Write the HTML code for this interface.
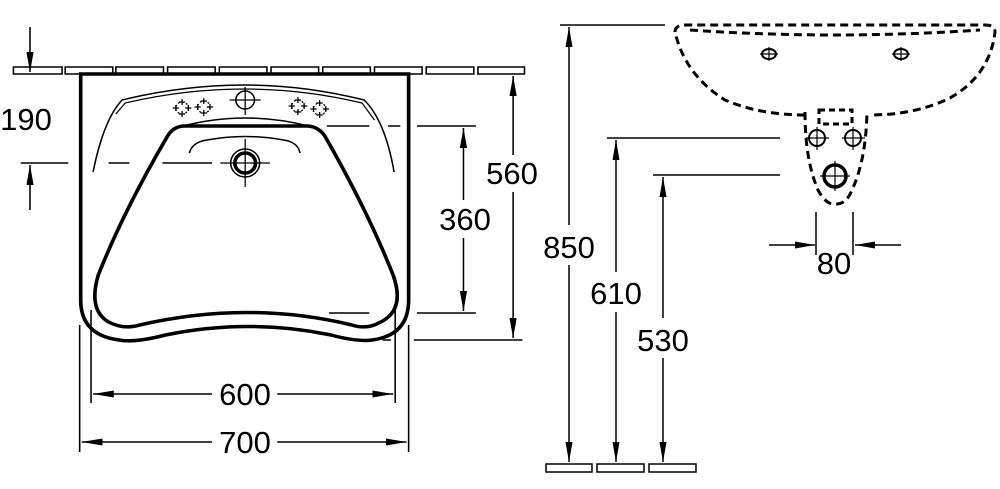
<!DOCTYPE html>
<html><head><meta charset="utf-8"><style>
html,body{margin:0;padding:0;background:#fff;}
svg{display:block;}
text{font-family:"Liberation Sans",sans-serif;font-size:31px;fill:#000;}
</style></head><body>
<svg width="1000" height="489" viewBox="0 0 1000 489" xmlns="http://www.w3.org/2000/svg">
<defs>
<marker id="a" viewBox="0 0 20 7" refX="20" refY="3.5" markerWidth="20" markerHeight="7" markerUnits="userSpaceOnUse" orient="auto"><path d="M0,0 L20,3.5 L0,7 z" fill="#000"/></marker>
<g id="cl" stroke="#000" fill="none" stroke-width="1.2">
<circle r="6" stroke-dasharray="2 2"/>
<path d="M-3,-6h6M0,-9v6M-3,6h6M0,3v6M-9,0h6M-6,-3v6M3,0h6M6,-3v6"/>
</g>
</defs>
<g transform="scale(1.0345,1)">
<g fill="none" stroke="#000">
<g stroke-width="1.5">
<rect x="13" y="67" width="47" height="7"/><rect x="63" y="67" width="46" height="7"/>
<rect x="112" y="67" width="46" height="7"/><rect x="162" y="67" width="46" height="7"/>
<rect x="212" y="67" width="46" height="7"/><rect x="262" y="67" width="46" height="7"/>
<rect x="312" y="67" width="46" height="7"/><rect x="362" y="67" width="46" height="7"/>
<rect x="412" y="67" width="46" height="7"/><rect x="462" y="67" width="45" height="7"/>
</g>
<path d="M78,74 H395 V300 Q395,335 360,340 Q345,342 320,335 Q240,318 160,335 Q130,343 115,340 Q78,335 78,300 Z" fill="#fff" stroke-width="3.5"/>
<path d="M177,126 H298 Q308,127 314,136 Q355,210 380,275 Q392,310 368,322 Q355,330 340,325 Q240,300 135,325 Q120,330 105,322 Q85,310 95,275 Q120,210 162,136 Q167,127 177,126 Z" stroke-width="3.5"/>
<path d="M90,172 Q100,120 118,100 Q237,70 352,100 Q372,120 381,172" stroke-width="1.5"/>
<path d="M112,114 L121,103 Q237,75 350,103 L362,120" stroke-width="1.2"/>
<path d="M183,153 Q186,142 200,140 Q237,133 274,140 Q288,142 290,153" stroke-width="1.5"/>
<path d="M177,126 Q237,110 298,126" stroke-width="1.5"/>
<circle cx="237" cy="163" r="14" stroke-width="1.5"/>
<circle cx="237" cy="163" r="10" stroke-width="3.5"/>
<path d="M213,163 H261 M237,139 V187" stroke-width="1.2"/>
<circle cx="237" cy="100" r="9" stroke-width="1.5"/>
<path d="M222,100 H252 M237,87 V115" stroke-width="1.2"/>
</g>
<use href="#cl" x="176" y="108"/><use href="#cl" x="197" y="107"/>
<use href="#cl" x="288" y="106"/><use href="#cl" x="309" y="109"/>
<g fill="none" stroke="#000">
<path d="M20,163 H66" stroke-width="1.5"/>
<path d="M105,163 H125 M157,163 H205" stroke-width="1.5"/>
<path d="M29,27 V72" stroke-width="1.5" marker-end="url(#a)"/>
<path d="M29,210 V165" stroke-width="1.5" marker-end="url(#a)"/>
<path d="M316,126 H357 M375,126 H387 M403,126 H460" stroke-width="1.5"/>
<path d="M318,313 H357 M403,313 H460" stroke-width="1.5"/>
<path d="M448,200 V128" stroke-width="1.5" marker-end="url(#a)"/>
<path d="M448,238 V311" stroke-width="1.5" marker-end="url(#a)"/>
<path d="M400,340 H505" stroke-width="1.5"/>
<path d="M370,340 H378" stroke-width="1.5"/>
<path d="M496,155 V76" stroke-width="1.5" marker-end="url(#a)"/>
<path d="M496,192 V338" stroke-width="1.5" marker-end="url(#a)"/>
<path d="M88,310 V403 M382,310 V403 M77,325 V452 M395,325 V452" stroke-width="1.5"/>
<path d="M205,394 H90" stroke-width="1.5" marker-end="url(#a)"/>
<path d="M268,394 H380" stroke-width="1.5" marker-end="url(#a)"/>
<path d="M205,442 H79" stroke-width="1.5" marker-end="url(#a)"/>
<path d="M268,442 H393" stroke-width="1.5" marker-end="url(#a)"/>
</g>
</g>
<g fill="none" stroke="#000">
<path d="M560,25 H665 M607,138 H780 M653,175 H780" stroke-width="1.5"/>
<path d="M569,225 V27" stroke-width="1.5" marker-end="url(#a)"/>
<path d="M569,265 V462" stroke-width="1.5" marker-end="url(#a)"/>
<path d="M616,272 V140" stroke-width="1.5" marker-end="url(#a)"/>
<path d="M616,312 V462" stroke-width="1.5" marker-end="url(#a)"/>
<path d="M663,318 V177" stroke-width="1.5" marker-end="url(#a)"/>
<path d="M663,358 V462" stroke-width="1.5" marker-end="url(#a)"/>
<rect x="546" y="464" width="46" height="8" stroke-width="1.5"/>
<rect x="597" y="464" width="47" height="8" stroke-width="1.5"/>
<rect x="649" y="464" width="47" height="8" stroke-width="1.5"/>
<g stroke-width="3" stroke-dasharray="8 5">
<path d="M675,32 Q675,25 685,25 H985 Q995,25 995,32 Q990,75 950,98 Q915,115 870,115 M805,115 Q760,115 725,100 Q685,75 675,32"/>
<path d="M690,30 Q835,40 980,30"/>
<path d="M805,112 Q805,160 818,190 Q826,205 835,204 Q846,205 852,190 Q866,160 867,112"/>
<rect x="819" y="110" width="33" height="14" stroke-dasharray="6 4"/>
</g>
<circle cx="817" cy="138" r="8" stroke-width="2"/>
<circle cx="853" cy="138" r="8" stroke-width="2"/>
<path d="M806,138h23M817,127v23M842,138h23M853,127v23" stroke-width="1.2"/>
<circle cx="835" cy="176" r="11" stroke-width="3.5"/>
<path d="M820,176h30M835,161v30" stroke-width="1.2"/>
<ellipse cx="769" cy="54" rx="7" ry="5" stroke-width="2"/>
<ellipse cx="901" cy="54" rx="7" ry="5" stroke-width="2"/>
<path d="M760,54h18M769,47v14M892,54h18M901,47v14" stroke-width="1.2"/>
<path d="M816,212 V255 M853,212 V255" stroke-width="1.5"/>
<path d="M769,245 H815" stroke-width="1.5" marker-end="url(#a)"/>
<path d="M901,245 H855" stroke-width="1.5" marker-end="url(#a)"/>
</g>
<text x="26" y="130" text-anchor="middle">190</text>
<text x="512" y="184" text-anchor="middle">560</text>
<text x="465" y="230" text-anchor="middle">360</text>
<text x="245" y="405" text-anchor="middle">600</text>
<text x="245" y="453" text-anchor="middle">700</text>
<text x="569" y="258" text-anchor="middle">850</text>
<text x="616" y="304" text-anchor="middle">610</text>
<text x="663" y="351" text-anchor="middle">530</text>
<text x="834" y="274" text-anchor="middle">80</text>
</svg>
</body></html>
